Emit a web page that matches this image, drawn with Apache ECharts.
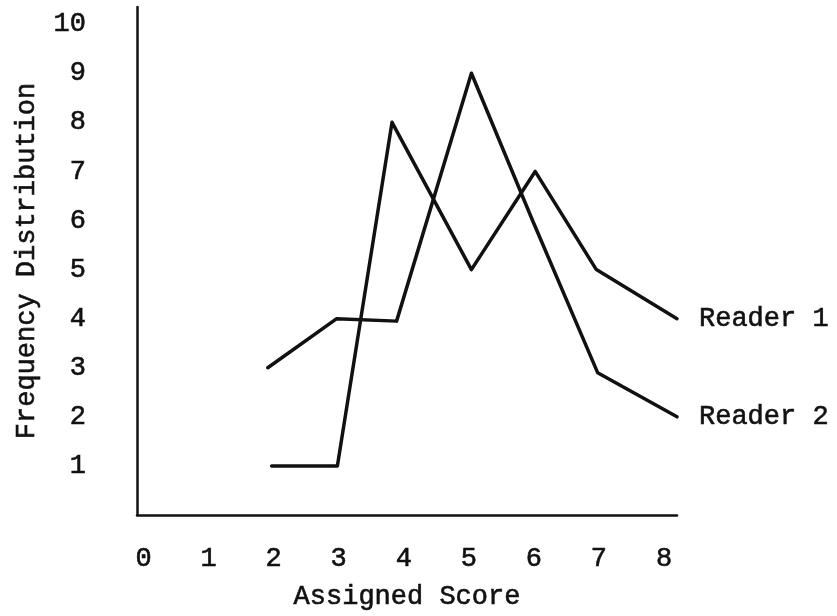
<!DOCTYPE html>
<html>
<head>
<meta charset="utf-8">
<script src="https://cdn.jsdelivr.net/npm/echarts@6/dist/echarts.min.js"></script>
<style>
html,body{margin:0;padding:0;background:#fff;}
#c{width:837px;height:616px;}
</style>
</head>
<body>
<div id="c"></div>
<script>
// Data
const xTickLabels = [0, 1, 2, 3, 4, 5, 6, 7, 8];
const yTickLabels = [1, 2, 3, 4, 5, 6, 7, 8, 9, 10];
const reader1X = [1.97, 2.98, 3.82, 5.04, 6.02, 6.96, 8.2];
const reader1Y = [1, 1, 8, 5, 7, 5, 4];
const reader2X = [1.91, 2.97, 3.89, 5.04, 5.98, 6.98, 8.2];
const reader2Y = [3, 4, 3.95, 9, 6, 2.9, 2];
const seriesNames = ['Reader 1', 'Reader 2'];

const FONT = '"Liberation Mono", "DejaVu Sans Mono", monospace';
const FS = 27;
const INK = '#111';
const textExtra = {textBorderColor: INK, textBorderWidth: 0.6};

function pairs(xs, ys) { return xs.map((x, i) => [x, ys[i]]); }

const chart = echarts.init(document.getElementById('c'), null, {renderer: 'canvas'});
const lineStyle = {color: INK, width: 3.5, cap: 'round', join: 'round'};
const endLabel = Object.assign({
  show: true, formatter: p => p.seriesName, color: INK,
  fontFamily: FONT, fontSize: FS, distance: 22
}, textExtra);

chart.setOption({
  backgroundColor: '#fff',
  animation: false,
  grid: {left: 137, right: 160, top: 7, bottom: 101, containLabel: false},
  xAxis: {
    type: 'value', min: -0.1, max: 8.2,
    name: 'Assigned Score', nameLocation: 'middle', nameGap: 68,
    nameTextStyle: Object.assign({color: INK, fontFamily: FONT, fontSize: FS}, textExtra),
    axisLine: {show: true, onZero: false, lineStyle: {color: INK, width: 2.5}},
    axisTick: {show: false},
    splitLine: {show: false},
    axisLabel: Object.assign({customValues: xTickLabels, color: INK, fontFamily: FONT, fontSize: FS, margin: 30}, textExtra)
  },
  yAxis: {
    type: 'value', min: 0, max: 10.35,
    name: 'Frequency Distribution', nameLocation: 'middle', nameGap: 97, nameRotate: 90,
    nameTextStyle: Object.assign({color: INK, fontFamily: FONT, fontSize: FS}, textExtra),
    axisLine: {show: true, onZero: false, lineStyle: {color: INK, width: 2.5}},
    axisTick: {show: false},
    splitLine: {show: false},
    axisLabel: Object.assign({customValues: yTickLabels, color: INK, fontFamily: FONT, fontSize: FS, margin: 51}, textExtra)
  },
  series: [
    {name: seriesNames[0], type: 'line', data: pairs(reader1X, reader1Y), showSymbol: false,
     lineStyle: lineStyle, endLabel: endLabel, silent: true},
    {name: seriesNames[1], type: 'line', data: pairs(reader2X, reader2Y), showSymbol: false,
     lineStyle: lineStyle, endLabel: endLabel, silent: true}
  ]
});
</script>
</body>
</html>
